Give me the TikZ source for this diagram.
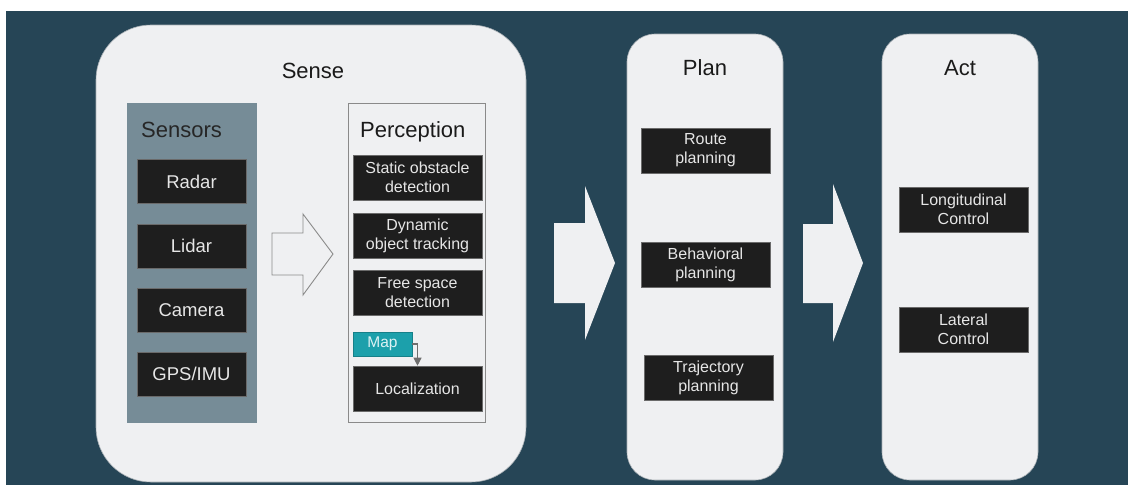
\documentclass[tikz,border=0pt]{standalone}
\usepackage{fontspec}
\setmainfont{Liberation Sans}
\usetikzlibrary{arrows.meta}
\definecolor{bgdark}{HTML}{264556}
\definecolor{panelbg}{HTML}{EFF0F2}
\definecolor{paneledge}{HTML}{A9B0B5}
\definecolor{sensbg}{HTML}{768C97}
\definecolor{boxbg}{HTML}{1E1E1E}
\definecolor{boxedge}{HTML}{6A6A6A}
\definecolor{boxfg}{HTML}{E6E6E6}
\definecolor{mapbg}{HTML}{1CA0AB}
\definecolor{mapfg}{HTML}{DDF2F4}
\definecolor{titlefg}{HTML}{1A1A1A}
\definecolor{linegray}{HTML}{8A8A8A}
\definecolor{linkgray}{HTML}{6E6E6E}
\begin{document}
\begin{tikzpicture}[x=1pt,y=-1pt,
  panel/.style={fill=panelbg, draw=paneledge, line width=0.6pt},
  title/.style={anchor=base, text=titlefg, inner sep=0pt, font=\fontsize{22}{26}\selectfont},
  blk/.style={fill=boxbg, draw=boxedge, line width=0.6pt, text=boxfg, align=center,
    inner sep=0pt, font=\fontsize{16}{19}\selectfont},
  sensbox/.style={blk, minimum width=109pt, minimum height=44pt, font=\fontsize{18.5}{22}\selectfont},
  percbox/.style={blk, minimum width=129pt, minimum height=45pt},
  bigarrow/.style={fill=panelbg, draw=none}
]
\useasboundingbox (0,0) rectangle (1128,485);
\fill[white] (0,0) rectangle (1128,485);
\fill[bgdark] (6,11) rectangle (1128,485);

% stage panels
\draw[panel, rounded corners=55pt] (96,25) rectangle (526,482);
\draw[panel, rounded corners=28pt] (627,34) rectangle (783,480);
\draw[panel, rounded corners=28pt] (882,34) rectangle (1038,480);

\node[title] (sense) at (313,78) {Sense};
\node[title] (plan) at (705,75) {Plan};
\node[title] (act) at (960,75) {Act};

% sensors column
\fill[sensbg] (127,103) rectangle (257,423);
\node[title, anchor=base west, text=black!85] (sensors) at (141,137) {Sensors};
\node[sensbox] (radar) at (191.5,181.5) {Radar};
\node[sensbox] (lidar) at (191.5,246) {Lidar};
\node[sensbox] (camera) at (191.5,310) {Camera};
\node[sensbox] (gps) at (191.5,374) {GPS/IMU};

% hollow arrow into perception
\draw[fill=panelbg, draw=linegray, line width=0.9pt, line join=miter]
  (272,233) -- (303,233) -- (303,214) -- (333,254) -- (303,295) -- (303,275) -- (272,275) -- cycle;

% perception column
\draw[draw=linegray, line width=0.8pt] (348,103) rectangle (485,422);
\node[title, anchor=base west] (perception) at (360,137) {Perception};
\node[percbox] (static) at (417.5,177.5) {Static obstacle\\detection};
\node[percbox] (dynamic) at (417.5,235.5) {Dynamic\\object tracking};
\node[percbox] (free) at (417.5,292.5) {Free space\\detection};
\node[percbox] (loc) at (417.5,388.5) {Localization};
\node[fill=mapbg, draw=mapbg!80!black, line width=0.4pt, text=mapfg, inner sep=0pt,
  minimum width=59pt, minimum height=24pt, font=\fontsize{15.5}{18}\selectfont] (map) at (382.5,344) {Map};
\draw[draw=linkgray, line width=1.1pt, -{Triangle[length=8pt,width=8pt]}] (map.east) -| (loc.north);

% arrows between stages
\fill[bigarrow] (554,223) -- (585,223) -- (585,186) -- (615,263) -- (585,340) -- (585,303) -- (554,303) -- cycle;
\fill[bigarrow] (803,224) -- (833,224) -- (833,184) -- (863,263) -- (833,342) -- (833,303) -- (803,303) -- cycle;

% plan blocks
\node[percbox] (route) at (705.5,150.5) {Route\\planning};
\node[percbox] (behav) at (705.5,264.5) {Behavioral\\planning};
\node[percbox] (traj) at (708.5,377.5) {Trajectory\\planning};

% act blocks
\node[percbox] (lon) at (963.5,209.5) {Longitudinal\\Control};
\node[percbox] (lat) at (963.5,329.5) {Lateral\\Control};
\end{tikzpicture}
\end{document}
